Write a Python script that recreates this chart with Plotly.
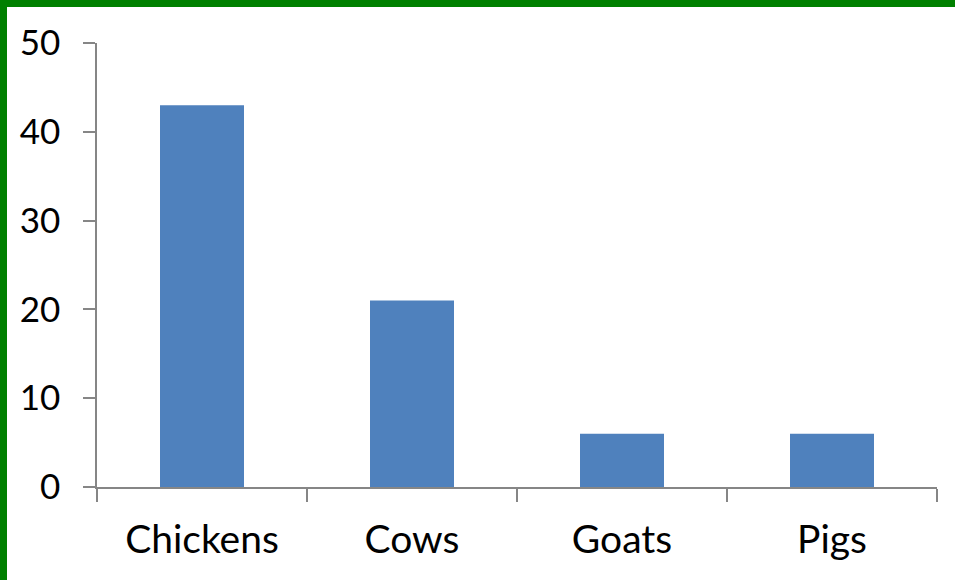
import plotly.graph_objects as go

categories = ["Chickens", "Cows", "Goats", "Pigs"]
values = [43, 21, 6, 6]
y_ticks = [0, 10, 20, 30, 40, 50]

W, H = 955, 580
ml, mr, mt, mb = 97, 18, 43, 93
pw, ph = W - ml - mr, H - mt - mb

fig = go.Figure(go.Bar(x=categories, y=values, marker=dict(color="#4F81BD", line=dict(width=0)), width=0.4))

axis_color = "#868686"
fig.update_layout(
    width=W, height=H, margin=dict(l=ml, r=mr, t=mt, b=mb),
    paper_bgcolor="white", plot_bgcolor="white", showlegend=False,
    font=dict(family="Lato", color="black", size=34),
    xaxis=dict(showline=True, linecolor=axis_color, linewidth=1.5, ticks="outside",
               tickson="boundaries", ticklen=13, tickcolor=axis_color, tickwidth=1.5,
               showgrid=False, tickfont=dict(size=39), ticklabelstandoff=17),
    yaxis=dict(range=[0, 50], tickvals=y_ticks, showline=True, linecolor=axis_color, linewidth=1.5,
               ticks="outside", ticklen=12, tickcolor=axis_color, tickwidth=1.5,
               showgrid=False, zeroline=False, tickfont=dict(size=35), ticklabelstandoff=16),
)

# green border on top and left of the image
fig.add_shape(type="rect", xref="paper", yref="paper", layer="above",
              x0=-ml / pw, x1=(7 - ml) / pw, y0=-mb / ph, y1=(H - mb) / ph,
              fillcolor="#008000", line=dict(width=0))
fig.add_shape(type="rect", xref="paper", yref="paper", layer="above",
              x0=-ml / pw, x1=(W - ml) / pw, y0=(H - mb - 7) / ph, y1=(H - mb) / ph,
              fillcolor="#008000", line=dict(width=0))

fig.write_html("out.html")
